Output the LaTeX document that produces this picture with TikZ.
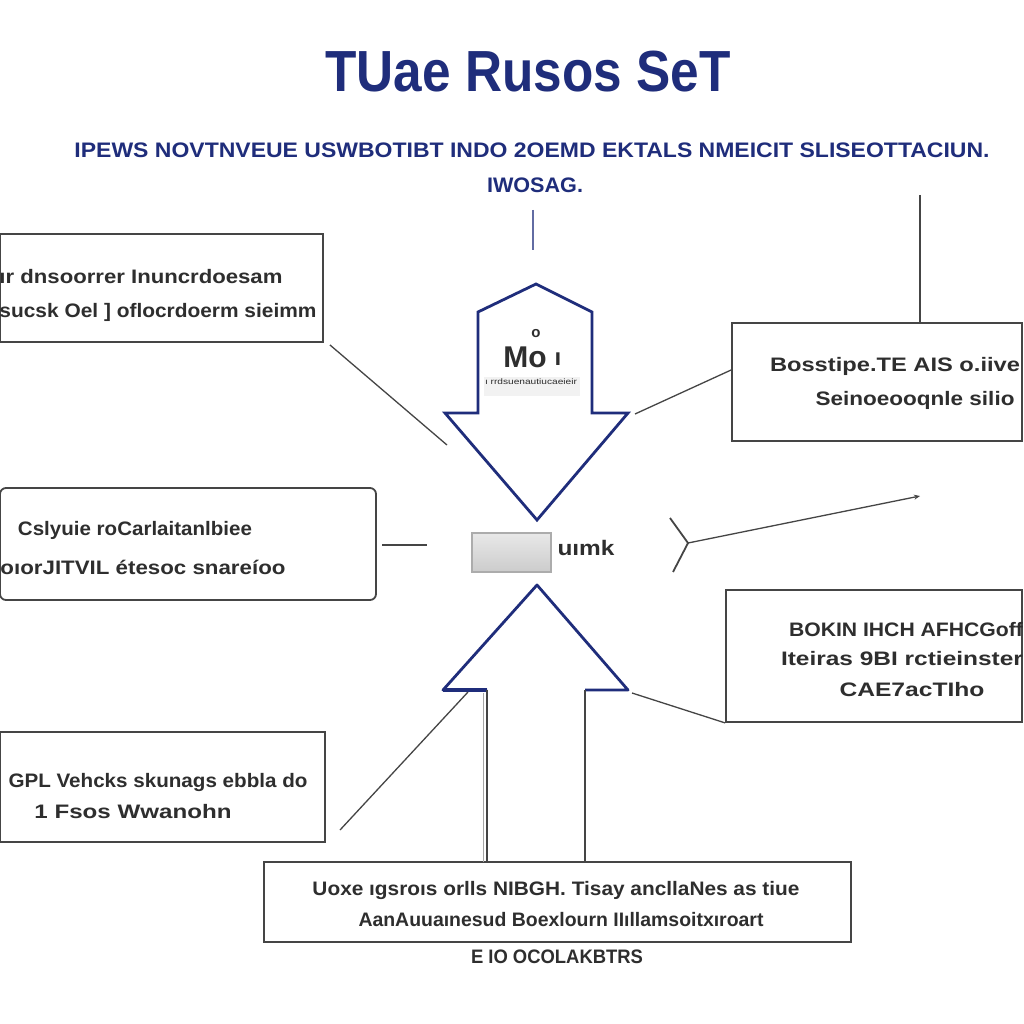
\documentclass[tikz,border=0pt]{standalone}
\usepackage{fontspec}
\setmainfont{Liberation Sans}
\usetikzlibrary{arrows.meta}
\definecolor{navy}{HTML}{1F2D7B}
\definecolor{boxc}{HTML}{454545}
\definecolor{txtc}{HTML}{2E2E2E}
\newcommand\fitto[2]{\resizebox{#1pt}{\height}{#2}}
\begin{document}
\begin{tikzpicture}[x=1pt,y=-1pt,
  panel/.style={draw=boxc, line width=1.8pt, fill=white, inner sep=0},
  ttl/.style={inner sep=0, text=navy, font=\bfseries\fontsize{58}{60}\selectfont},
  sub/.style={inner sep=0, text=navy, font=\bfseries\fontsize{21}{22}\selectfont},
  lbl/.style={inner sep=0, text=txtc, font=\bfseries\fontsize{19.5}{20}\selectfont},
  conn/.style={draw=boxc, line width=1.3pt},
  arrowline/.style={draw=navy, line width=2.8pt, line join=miter, fill=white}
]
\useasboundingbox[fill=white] (0,0) rectangle (1024,1024);

% title
\node[ttl] (title) at (528,72) {\fitto{405}{TUae Rusos SeT}};
\node[sub] (sub1) at (532,150) {\fitto{915}{IPEWS NOVTNVEUE USWBOTIBT INDO 2OEMD EKTALS NMEICIT SLISEOTTACIUN.}};
\node[sub] (sub2) at (535,185) {\fitto{96}{IWOSAG.}};

% boxes
\node[panel, minimum width=323, minimum height=108] (l1) at (161.5,288) {};
\node[panel, minimum width=290, minimum height=118] (r1) at (877,382) {};
\node[panel, rounded corners=6pt, minimum width=376, minimum height=112] (l2) at (188,544) {};
\node[panel, minimum width=296, minimum height=132] (r2) at (874,656) {};
\node[panel, minimum width=325, minimum height=110] (l3) at (162.5,787) {};
\node[panel, minimum width=587, minimum height=80] (bot) at (557.5,902) {};

% box texts
\node[lbl] (l1a) at (141,277) {\fitto{283}{ır dnsoorrer Inuncrdoesam}};
\node[lbl] (l1b) at (158,312) {\fitto{317}{sucsk Oel ] oflocrdoerm sieimm}};
\node[lbl] (r1a) at (895,366) {\fitto{250}{Bosstipe.TE AIS o.iive}};
\node[lbl] (r1b) at (915,400) {\fitto{199}{Seinoeooqnle silio}};
\node[lbl] (l2a) at (135,530) {\fitto{234}{Cslyuie roCarlaitanlbiee}};
\node[lbl] (l2b) at (143,567) {\fitto{285}{oıorJITVIL étesoc snareíoo}};
\node[lbl] (r2a) at (906,630) {\fitto{234}{BOKIN IHCH AFHCGoff}};
\node[lbl] (r2b) at (902,659) {\fitto{242}{Iteiras 9BI rctieinster}};
\node[lbl] (r2c) at (912,690) {\fitto{145}{CAE7acTIho}};
\node[lbl] (l3a) at (158,782) {\fitto{299}{GPL Vehcks skunags ebbla do}};
\node[lbl] (l3b) at (133,812) {\fitto{197}{1 Fsos Wwanohn}};
\node[lbl] (ba) at (556,890) {\fitto{487}{Uoxe ıgsroıs orlls NIBGH. Tisay ancllaNes as tiue}};
\node[lbl] (bb) at (561,920) {\fitto{405}{AanAuuaınesud Boexlourn IIıllamsoitxıroart}};
\node[lbl] (bc) at (557,957) {\fitto{172}{E IO OCOLAKBTRS}};

% down arrow
\coordinate (d1) at (536,284);
\coordinate (d2) at (592,312);
\coordinate (d3) at (592,413);
\coordinate (d4) at (628,413);
\coordinate (d5) at (537,520);
\coordinate (d6) at (445,413);
\coordinate (d7) at (478,413);
\coordinate (d8) at (478,312);
\draw[arrowline] (d1) -- (d2) -- (d3) -- (d4) -- (d5) -- (d6) -- (d7) -- (d8) -- cycle;
\fill[gray!10] (484,377) rectangle (580,396);
\node[inner sep=0, text=txtc, font=\fontsize{8}{8}\selectfont] (cap) at (531,382) {\fitto{92}{ı rrdsuenautiucaeieir}};
\node[inner sep=0, text=txtc, font=\bfseries\fontsize{30}{30}\selectfont] (mo) at (525,357) {Mo};
\node[inner sep=0, text=txtc, font=\bfseries\fontsize{15}{15}\selectfont] (mo2) at (536,334) {o};
\node[inner sep=0, text=txtc, font=\bfseries\fontsize{24}{24}\selectfont] (mo3) at (558,359) {ı};

% up arrow
\coordinate (u1) at (537,585);
\coordinate (u2) at (628,690);
\coordinate (u3) at (585,690);
\coordinate (u4) at (487,690);
\coordinate (u5) at (443,690);
\draw[arrowline, fill=none, line join=round] (u3) -- (u2) -- (u1) -- (u5) -- (u4);
\draw[navy, line width=4pt] (443,690) -- (487,690);
\draw[conn] (u3) -- (u3 |- bot.north);
\draw[conn] (u4) -- (u4 |- bot.north);
\draw[conn, draw=gray!70, line width=1pt] (483,693) -- (483,862);

% centre element
\node[draw=gray!65, line width=1.2pt, top color=gray!18, bottom color=gray!40, minimum width=79, minimum height=39, inner sep=0] (mid) at (511.5,552.5) {};
\node[lbl, font=\bfseries\fontsize{21}{21}\selectfont] (midt) at (586,548) {\fitto{57}{uımk}};

% connectors
\coordinate (v1) at (533,210);
\coordinate (v1e) at (533,250);
\draw[conn, draw=navy!70, line width=1.2pt] (v1) -- (v1e);
\coordinate (v2) at (920,195);
\draw[conn] (v2) -- (v2 |- r1.north);
\coordinate (c1) at (447,445);
\draw[conn] (l1.south east) ++(6,2) -- (c1);
\coordinate (c2) at (635,414);
\draw[conn] (r1.west |- 0,370) -- (c2);
\coordinate (c3a) at (382,545);
\coordinate (c3b) at (427,545);
\draw[conn] (c3a) -- (c3b);
\coordinate (f1) at (670,518);
\coordinate (f2) at (688,543);
\coordinate (f3) at (673,572);
\coordinate (f4) at (920,496);
\draw[conn, line width=1.8pt] (f1) -- (f2) -- (f3);
\draw[conn, -{Stealth[length=6pt,width=5pt]}] (f2) -- (f4);
\coordinate (c4) at (632,693);
\draw[conn] (c4) -- (r2.south west);
\coordinate (c5a) at (340,830);
\coordinate (c5b) at (468,692);
\draw[conn] (c5a) -- (c5b);
\end{tikzpicture}
\end{document}
